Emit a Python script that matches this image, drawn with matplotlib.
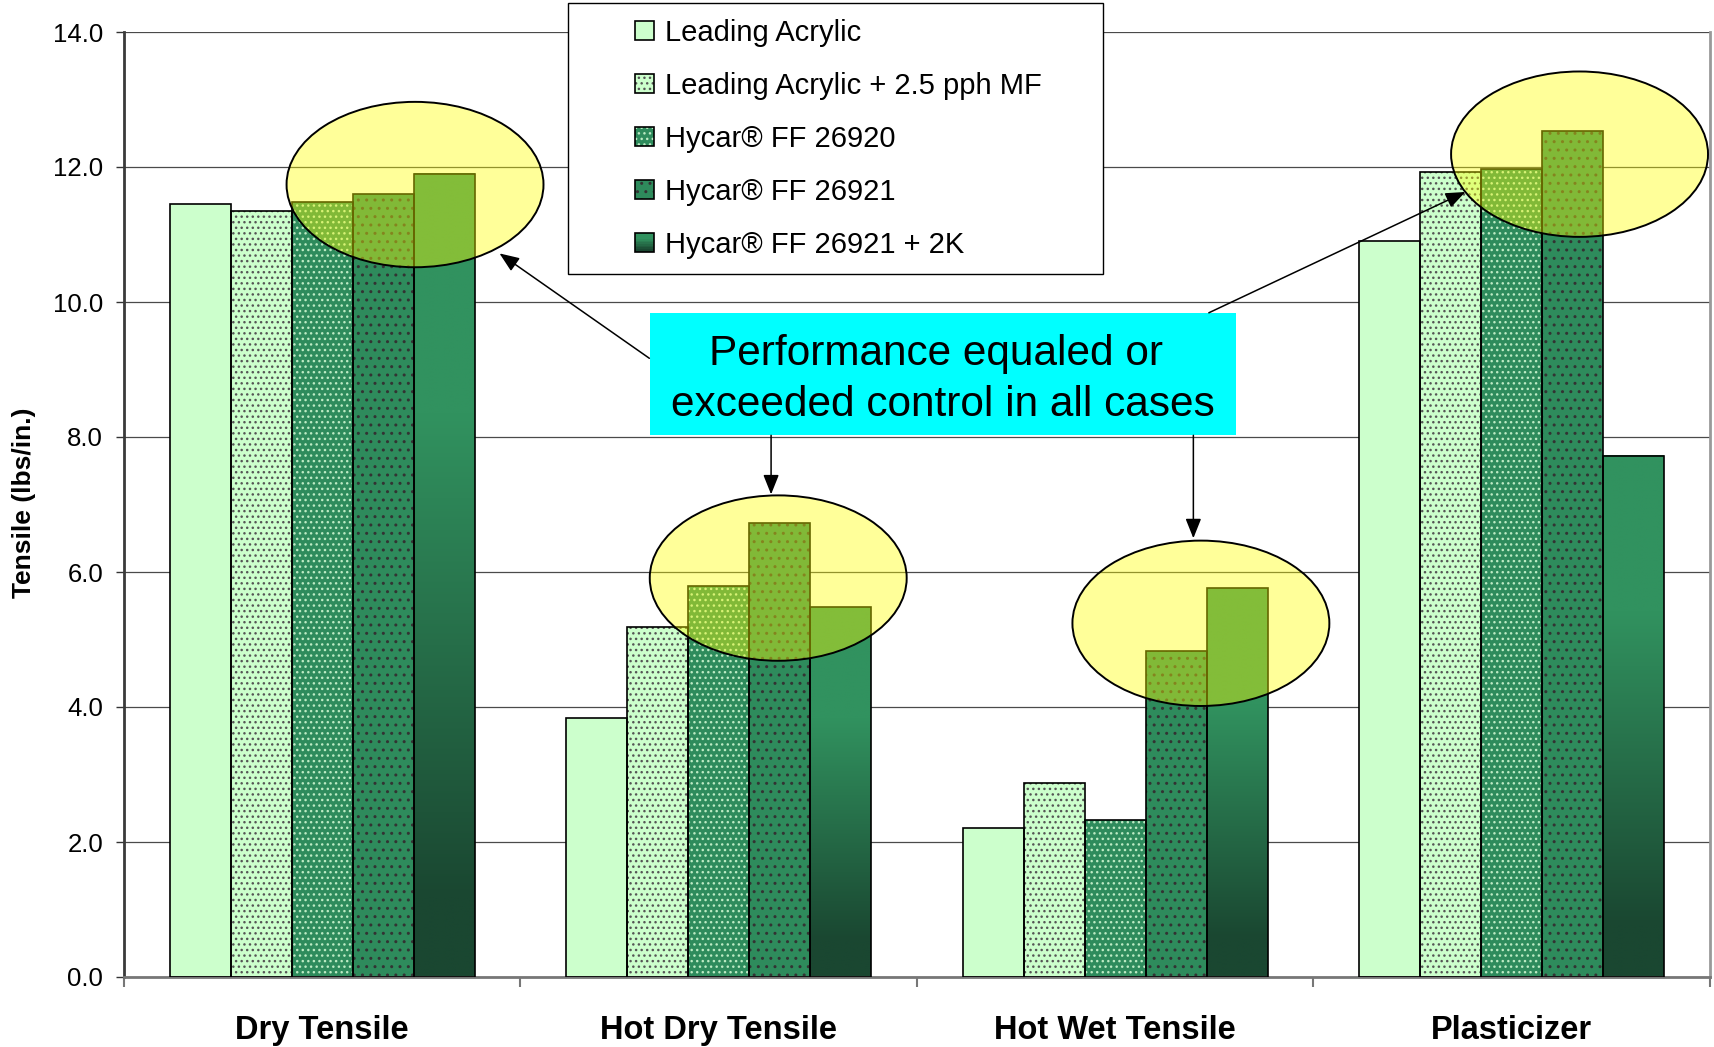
import numpy as np
import matplotlib
matplotlib.use("Agg")
import matplotlib.pyplot as plt
from matplotlib.patches import Rectangle, Ellipse, FancyArrowPatch
from matplotlib.legend_handler import HandlerBase
from matplotlib.colors import to_rgb
import matplotlib.transforms as mtransforms

# ---- data -------------------------------------------------------------
categories = ["Dry Tensile", "Hot Dry Tensile", "Hot Wet Tensile", "Plasticizer"]
series_names = [
    "Leading Acrylic",
    "Leading Acrylic + 2.5 pph MF",
    "Hycar® FF 26920",
    "Hycar® FF 26921",
    "Hycar® FF 26921 + 2K",
]
leading_acrylic = [11.45, 3.83, 2.21, 10.90]
leading_acrylic_mf = [11.35, 5.19, 2.87, 11.93]
hycar_26920 = [11.48, 5.79, 2.33, 11.97]
hycar_26921 = [11.60, 6.72, 4.83, 12.53]
hycar_26921_2k = [11.90, 5.48, 5.76, 7.72]
y_ticks = [0, 2, 4, 6, 8, 10, 12, 14]
y_label = "Tensile (lbs/in.)"
callout_lines = ["Performance equaled or", "exceeded control in all cases"]

series = [leading_acrylic, leading_acrylic_mf, hycar_26920, hycar_26921, hycar_26921_2k]

# ---- styling ----------------------------------------------------------
plt.rcParams["font.family"] = ["Liberation Sans", "DejaVu Sans"]
plt.rcParams["hatch.linewidth"] = 1.0

GRAD_TOP = "#31925F"
GRAD_BOTTOM = "#1A4731"
styles = [
    dict(face="#CCFFCC", hatch=None, hatch_color=None, gradient=False),
    dict(face="#CCFFCC", hatch="...", hatch_color="#555555", gradient=False),
    dict(face="#2E8B5C", hatch="...", hatch_color="#BDEBC4", gradient=False),
    dict(face="#2E8B5C", hatch="..", hatch_color="#333333", gradient=False),
    dict(face=None, hatch=None, hatch_color=None, gradient=True),
]


def gradient_colors(n):
    """Vertical fill for the 2K bars: flat on top, darkening towards the base."""
    t = np.linspace(0.0, 1.0, n)
    s = np.clip((t - 0.30) / (0.90 - 0.30), 0.0, 1.0)
    top = np.array(to_rgb(GRAD_TOP))
    bot = np.array(to_rgb(GRAD_BOTTOM))
    return top[None, :] * (1 - s[:, None]) + bot[None, :] * s[:, None]


W, H = 1715, 1047
fig = plt.figure(figsize=(W / 100, H / 100), dpi=100)
ax = fig.add_axes([124 / W, 1 - 977 / H, (1710 - 124) / W, (977 - 32) / H])

x = np.arange(len(categories))
n_series = len(series)
bar_w = 0.1538
EDGE_LW = 1.2

grad_img = gradient_colors(256)[:, None, :]

for i, (vals, st) in enumerate(zip(series, styles)):
    xs = x + (i - (n_series - 1) / 2) * bar_w
    if st["gradient"]:
        bars = ax.bar(xs, vals, bar_w, facecolor="none", edgecolor="black",
                      linewidth=EDGE_LW, zorder=3)
        for r in bars:
            ax.imshow(grad_img,
                      extent=(r.get_x(), r.get_x() + r.get_width(), 0, r.get_height()),
                      aspect="auto", interpolation="bilinear", zorder=2)
    else:
        ax.bar(xs, vals, bar_w, color=st["face"], edgecolor="none", zorder=2)
        if st["hatch"]:
            ax.bar(xs, vals, bar_w, facecolor="none", edgecolor=st["hatch_color"],
                   linewidth=0, hatch=st["hatch"], zorder=2.2)
        ax.bar(xs, vals, bar_w, facecolor="none", edgecolor="black",
               linewidth=EDGE_LW, zorder=3)

# ---- axes ---------------------------------------------------------------
ax.set_xlim(-0.5, len(categories) - 0.5)
ax.set_ylim(0, 14)
ax.set_yticks(y_ticks)
ax.set_yticklabels([f"{v:.1f}" for v in y_ticks], fontsize=18.5)
ax.tick_params(axis="y", direction="out", length=6, width=1.0, color="#333333", pad=9)
ax.yaxis.grid(True, color="#4a4a4a", linewidth=0.9)
ax.set_axisbelow(True)

ax.set_xticks(np.arange(len(categories) + 1) - 0.5)
ax.set_xticklabels([])
ax.tick_params(axis="x", direction="out", length=7.5, width=1.5, color="#777777")

ax.spines["top"].set_visible(False)
ax.spines["left"].set_color("#3a3a3a")
ax.spines["left"].set_linewidth(2.0)
ax.spines["bottom"].set_color("#777777")
ax.spines["bottom"].set_linewidth(2.0)
ax.spines["right"].set_color("#999999")
ax.spines["right"].set_linewidth(2.0)

xlab_trans = mtransforms.blended_transform_factory(ax.transData, fig.transFigure)
for xi, name in zip(x, categories):
    ax.text(xi, 1 - 1039 / H, name, transform=xlab_trans, ha="center", va="baseline",
            fontsize=23.5, fontweight="bold", clip_on=False)

fig.text(24 / W, 1 - 503 / H, y_label, rotation=90, ha="center", va="center",
         fontsize=19, fontweight="bold")

# ---- highlight ellipses ----------------------------------------------
ellipse_centers = [(0.234, 11.74), (1.150, 5.91), (2.216, 5.24), (3.171, 12.19)]
for cx, cy in ellipse_centers:
    ax.add_patch(Ellipse((cx, cy), 0.648, 2.45, facecolor=(1, 1, 0, 0.4),
                         edgecolor="black", linewidth=1.4, zorder=5, clip_on=False))

# ---- callout ------------------------------------------------------------
ax.add_patch(Rectangle((0.826, 8.025), 2.3045 - 0.826, 9.84 - 8.025,
                       facecolor="#00FFFF", edgecolor="none", zorder=6, clip_on=False))
ax.text(1.549, 9.067, callout_lines[0], ha="center", va="baseline", fontsize=30.5, zorder=7)
ax.text(1.565, 8.311, callout_lines[1], ha="center", va="baseline", fontsize=30.5, zorder=7)

arrows = [
    ((0.825, 9.166), (0.447, 10.72)),
    ((1.132, 8.025), (1.132, 7.15)),
    ((2.197, 8.025), (2.197, 6.50)),
    ((2.236, 9.84), (2.883, 11.63)),
]
for start, end in arrows:
    ax.add_patch(FancyArrowPatch(start, end,
                                 arrowstyle="-|>,head_length=0.4,head_width=0.16",
                                 mutation_scale=30, linewidth=1.1, color="black",
                                 shrinkA=0, shrinkB=0, zorder=7, clip_on=False))


# ---- legend -------------------------------------------------------------
class Swatch:
    def __init__(self, style):
        self.style = style


class SwatchHandler(HandlerBase):
    def create_artists(self, legend, orig_handle, xdescent, ydescent, width, height,
                       fontsize, trans):
        st = orig_handle.style
        x0, y0 = -xdescent, -ydescent
        artists = []
        if st["gradient"]:
            cols = gradient_colors(12)
            n = len(cols)
            for k, c in enumerate(cols):
                artists.append(Rectangle((x0, y0 + height * (n - 1 - k) / n), width,
                                         height / n + 0.01, facecolor=c,
                                         edgecolor="none", transform=trans))
        else:
            artists.append(Rectangle((x0, y0), width, height, facecolor=st["face"],
                                     edgecolor="none", transform=trans))
            if st["hatch"]:
                artists.append(Rectangle((x0, y0), width, height, facecolor="none",
                                         edgecolor=st["hatch_color"], linewidth=0,
                                         hatch=st["hatch"], transform=trans))
        artists.append(Rectangle((x0, y0), width, height, facecolor="none",
                                 edgecolor="black", linewidth=1.2, transform=trans))
        return artists


fig.patches.append(Rectangle((567.7 / W, 1 - 273.5 / H), (1102.6 - 567.7) / W,
                             (273.5 - 3.3) / H, transform=fig.transFigure,
                             facecolor="white", edgecolor="black", linewidth=1.0,
                             zorder=4))
handles = [Swatch(st) for st in styles]
fig.legend(handles, series_names, loc="upper left",
           bbox_to_anchor=(635.4 / W, 1 - 18.9 / H), bbox_transform=fig.transFigure,
           frameon=False, borderpad=0, borderaxespad=0, fontsize=21,
           handlelength=0.65, handleheight=0.65, handletextpad=0.36,
           labelspacing=0.855, handler_map={Swatch: SwatchHandler()})

fig.savefig("out.png", dpi=100)
